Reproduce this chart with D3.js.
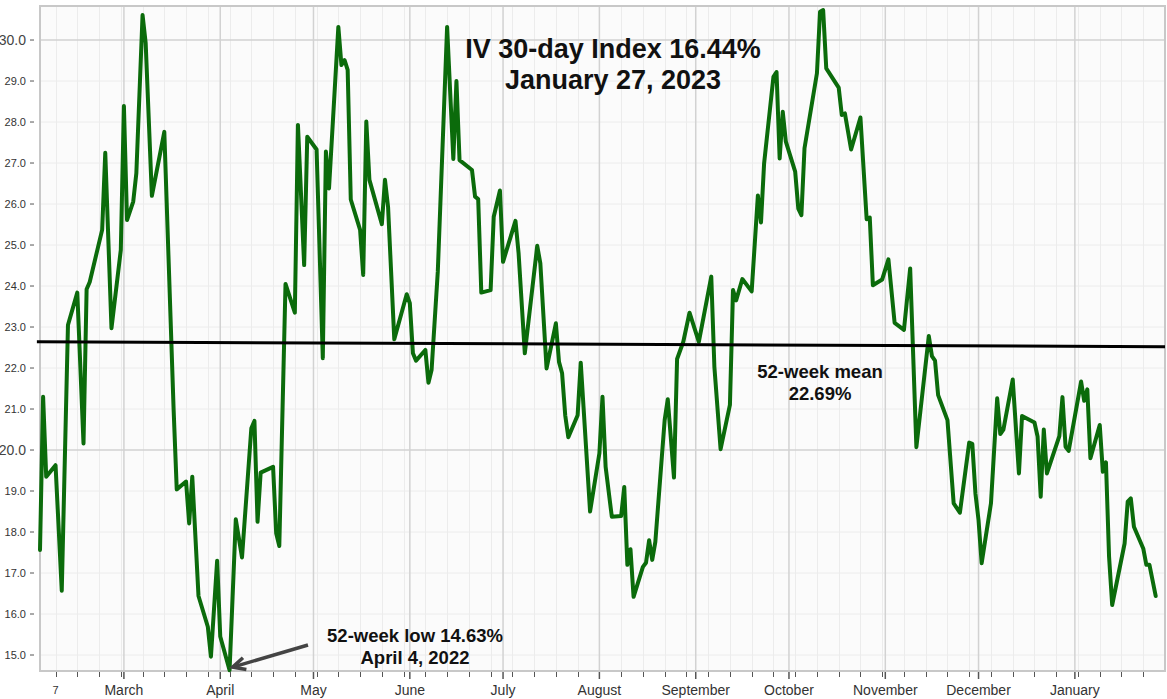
<!DOCTYPE html>
<html><head><meta charset="utf-8">
<script src="https://cdn.jsdelivr.net/npm/d3@7"></script>
<style>
body{margin:0;background:#fff}
svg{display:block}
text{font-family:"Liberation Sans",Arial,Helvetica,sans-serif}
</style>
</head><body>
<svg id="chart" width="1167" height="699"></svg>
<script>
// ---------- data ----------
const dates = [
"2022-02-02","2022-02-03","2022-02-04","2022-02-07","2022-02-09","2022-02-11","2022-02-14","2022-02-16","2022-02-17","2022-02-18",
"2022-02-22","2022-02-23","2022-02-25","2022-02-28","2022-03-01","2022-03-02","2022-03-04","2022-03-05","2022-03-07","2022-03-08",
"2022-03-10","2022-03-14","2022-03-17","2022-03-18","2022-03-21","2022-03-22","2022-03-23","2022-03-25","2022-03-28","2022-03-29",
"2022-03-31","2022-04-01","2022-04-04","2022-04-06","2022-04-08","2022-04-11","2022-04-12","2022-04-13","2022-04-14","2022-04-18",
"2022-04-19","2022-04-20","2022-04-22","2022-04-25","2022-04-26","2022-04-28","2022-04-29","2022-05-02","2022-05-04","2022-05-05",
"2022-05-06","2022-05-09","2022-05-10","2022-05-11","2022-05-12","2022-05-13","2022-05-16","2022-05-17","2022-05-18","2022-05-19",
"2022-05-23","2022-05-24","2022-05-25","2022-05-27","2022-05-31","2022-06-01","2022-06-02","2022-06-03","2022-06-06","2022-06-07",
"2022-06-08","2022-06-10","2022-06-13","2022-06-15","2022-06-16","2022-06-17","2022-06-21","2022-06-22","2022-06-23","2022-06-24",
"2022-06-27","2022-06-28","2022-06-30","2022-07-01","2022-07-05","2022-07-06","2022-07-08","2022-07-12","2022-07-13","2022-07-15",
"2022-07-18","2022-07-19","2022-07-20","2022-07-21","2022-07-22","2022-07-25","2022-07-26","2022-07-29","2022-08-01","2022-08-02",
"2022-08-03","2022-08-05","2022-08-08","2022-08-09","2022-08-10","2022-08-11","2022-08-12","2022-08-15","2022-08-16","2022-08-17",
"2022-08-18","2022-08-19","2022-08-22","2022-08-23","2022-08-25","2022-08-26","2022-08-28","2022-08-30","2022-09-02","2022-09-06",
"2022-09-07","2022-09-09","2022-09-12","2022-09-13","2022-09-14","2022-09-16","2022-09-19","2022-09-21","2022-09-22","2022-09-23",
"2022-09-26","2022-09-27","2022-09-28","2022-09-29","2022-09-30","2022-10-03","2022-10-04","2022-10-05","2022-10-06","2022-10-10",
"2022-10-11","2022-10-12","2022-10-13","2022-10-17","2022-10-18","2022-10-19","2022-10-21","2022-10-24","2022-10-26","2022-10-27",
"2022-10-28","2022-10-31","2022-11-02","2022-11-04","2022-11-07","2022-11-09","2022-11-11","2022-11-15","2022-11-16","2022-11-17",
"2022-11-18","2022-11-21","2022-11-23","2022-11-25","2022-11-28","2022-11-29","2022-11-30","2022-12-01","2022-12-02","2022-12-05",
"2022-12-07","2022-12-08","2022-12-09","2022-12-12","2022-12-14","2022-12-15","2022-12-19","2022-12-20","2022-12-21","2022-12-22",
"2022-12-23","2022-12-27","2022-12-28","2022-12-29","2022-12-30","2023-01-03","2023-01-04","2023-01-05","2023-01-06","2023-01-09",
"2023-01-10","2023-01-11","2023-01-12","2023-01-13","2023-01-17","2023-01-18","2023-01-19","2023-01-20","2023-01-23","2023-01-24",
"2023-01-25","2023-01-27"
];
const ivValues = [
17.56,21.30,19.35,19.63,16.57,23.05,23.84,20.16,23.92,24.10,
25.37,27.25,22.97,24.88,28.39,25.61,26.06,26.75,30.61,29.93,
26.20,27.76,20.98,19.04,19.23,18.21,19.35,16.44,15.69,14.96,
17.30,15.45,14.63,18.31,17.38,20.53,20.71,18.25,19.45,19.59,
17.97,17.66,24.05,23.35,27.93,24.51,27.64,27.33,22.24,27.28,
26.38,30.32,29.39,29.51,29.27,26.11,25.37,24.27,28.01,26.59,
25.51,26.59,25.93,22.70,23.80,23.58,22.36,22.18,22.44,21.64,
21.95,24.35,30.32,27.10,29.00,27.07,26.83,26.18,26.12,23.84,
23.90,25.69,26.33,24.59,25.59,24.80,22.36,24.98,24.55,21.99,
23.09,22.15,21.87,20.85,20.31,20.85,22.13,18.50,19.92,21.30,
19.59,18.37,18.39,19.10,17.20,17.58,16.42,17.15,17.25,17.80,
17.32,17.76,20.73,21.24,19.33,22.22,22.64,23.35,22.64,24.23,
22.03,20.02,21.10,23.90,23.65,24.17,23.87,26.21,25.55,26.99,
29.10,29.22,27.11,28.25,27.52,26.79,25.89,25.73,27.36,29.19,
30.69,30.73,29.31,28.84,28.17,28.21,27.33,28.11,25.63,25.67,
24.02,24.16,24.65,23.10,22.93,24.43,20.07,22.78,22.29,22.18,
21.34,20.73,18.70,18.47,20.18,20.15,18.94,18.29,17.24,18.70,
21.26,20.39,20.50,21.72,19.43,20.83,20.67,20.33,18.86,20.50,
19.43,20.34,21.29,20.08,19.98,21.67,21.20,21.48,19.80,20.61,
19.47,19.70,17.40,16.22,17.72,18.74,18.82,18.13,17.60,17.20,
17.20,16.44
];
const meanDates = ["2022-02-01","2023-01-30"];
const meanValues = [22.64, 22.52];
const lowDate = "2022-04-04";
const lowValue = 14.63;

const xDomain = ["2022-02-02","2023-01-30"];
const yDomain = [14.61, 30.83];
const yTickValues = [15,16,17,18,19,20,21,22,23,24,25,26,27,28,29,30];
const yMajorValues = [20,30];
const xLabelDates = ["2022-02-07","2022-03-01","2022-04-01","2022-05-01","2022-06-01","2022-07-01","2022-08-01","2022-09-01","2022-10-01","2022-11-01","2022-12-01","2023-01-01"];
const xLabelTexts = ["7","March","April","May","June","July","August","September","October","November","December","January"];
const titleLines = ["IV 30-day Index 16.44%","January 27, 2023"];
const meanLabel = ["52-week mean","22.69%"];
const lowLabel = ["52-week low 14.63%","April 4, 2022"];

// ---------- setup ----------
const parse = d3.utcParse("%Y-%m-%d");
const svg = d3.select("#chart");
const L = 40, R = 1165, T = 6, B = 671;

const x = d3.scaleUtc().domain(xDomain.map(parse)).range([L, R]);
const y = d3.scaleLinear().domain(yDomain).range([B, T]);

// plot background
svg.append("rect").attr("x", L).attr("y", T).attr("width", R - L).attr("height", B - T)
  .attr("fill", "#fbfbfb");

const grid = svg.append("g");
// minor horizontal gridlines
grid.selectAll("line.hmin").data(yTickValues.filter(v => !yMajorValues.includes(v))).join("line")
  .attr("x1", L).attr("x2", R).attr("y1", d => y(d)).attr("y2", d => y(d))
  .attr("stroke", "#ececec").attr("stroke-width", 1);
// minor vertical gridlines (weekly, Mondays)
const mondays = d3.utcMonday.range(x.domain()[0], x.domain()[1]);
grid.selectAll("line.vmin").data(mondays).join("line")
  .attr("x1", d => Math.round(x(d)) + 0.5).attr("x2", d => Math.round(x(d)) + 0.5)
  .attr("y1", T).attr("y2", B)
  .attr("stroke", "#ececec").attr("stroke-width", 1);
// major vertical (month)
const months = d3.utcMonth.range(x.domain()[0], x.domain()[1]);
grid.selectAll("line.vmaj").data(months).join("line")
  .attr("x1", d => x(d)).attr("x2", d => x(d)).attr("y1", T).attr("y2", B)
  .attr("stroke", "#d2d2d2").attr("stroke-width", 1.5);
// major horizontal
grid.selectAll("line.hmaj").data(yMajorValues).join("line")
  .attr("x1", L).attr("x2", R).attr("y1", d => y(d)).attr("y2", d => y(d))
  .attr("stroke", "#d2d2d2").attr("stroke-width", 1.5);

// frame
svg.append("rect").attr("x", L).attr("y", T).attr("width", R - L).attr("height", B - T)
  .attr("fill", "none").attr("stroke", "#c8c8c8").attr("stroke-width", 2);

// y axis labels + ticks
const yAx = svg.append("g");
yAx.selectAll("line").data(yTickValues).join("line")
  .attr("x1", 30).attr("x2", 34).attr("y1", d => y(d)).attr("y2", d => y(d))
  .attr("stroke", "#555").attr("stroke-width", 1);
yAx.selectAll("text").data(yTickValues).join("text")
  .attr("x", 26).attr("y", d => y(d)).attr("dy", "0.36em")
  .attr("text-anchor", "end")
  .attr("font-size", d => yMajorValues.includes(d) ? 14 : 11)
  .attr("fill", d => yMajorValues.includes(d) ? "#444" : "#333")
  .text(d => d3.format(".1f")(d));

// x axis ticks
const xAx = svg.append("g");
xAx.selectAll("line.wk").data(mondays).join("line")
  .attr("x1", d => Math.round(x(d)) + 0.5).attr("x2", d => Math.round(x(d)) + 0.5)
  .attr("y1", B + 1).attr("y2", B + 6)
  .attr("stroke", "#555").attr("stroke-width", 1);
xAx.selectAll("line.mo").data(months).join("line")
  .attr("x1", d => x(d)).attr("x2", d => x(d))
  .attr("y1", B + 1).attr("y2", B + 8)
  .attr("stroke", "#555").attr("stroke-width", 1.5);
xAx.selectAll("text").data(xLabelDates).join("text")
  .attr("x", d => x(parse(d))).attr("y", (d, i) => i === 0 ? 694 : 695)
  .attr("text-anchor", "middle")
  .attr("font-size", (d, i) => i === 0 ? 11 : 14)
  .attr("fill", "#333")
  .text((d, i) => xLabelTexts[i]);

// IV line
const series = dates.map((d, i) => ({ date: parse(d), value: ivValues[i] }));
svg.append("path").datum(series)
  .attr("fill", "none").attr("stroke", "#0b6b0b").attr("stroke-width", 4)
  .attr("stroke-linejoin", "round").attr("stroke-linecap", "round")
  .attr("d", d3.line().x(d => x(d.date)).y(d => y(d.value)));

// mean line
const meanSeries = meanDates.map((d, i) => ({ date: parse(d), value: meanValues[i] }));
svg.append("path").datum(meanSeries)
  .attr("fill", "none").attr("stroke", "#000").attr("stroke-width", 3)
  .attr("d", d3.line().x(d => x(d.date)).y(d => y(d.value)));

// title
const title = svg.append("text").attr("text-anchor", "middle")
  .attr("font-size", 27).attr("font-weight", "bold").attr("fill", "#111");
titleLines.forEach((t, i) => title.append("tspan").attr("x", 613).attr("y", 58 + i * 31).text(t));

// mean annotation
const ma = svg.append("text").attr("text-anchor", "middle")
  .attr("font-size", 18.5).attr("font-weight", "bold").attr("fill", "#111");
meanLabel.forEach((t, i) => ma.append("tspan").attr("x", 820).attr("y", 378 + i * 22).text(t));

// low annotation
const la = svg.append("text").attr("text-anchor", "middle")
  .attr("font-size", 18.5).attr("font-weight", "bold").attr("fill", "#111");
lowLabel.forEach((t, i) => la.append("tspan").attr("x", 415).attr("y", 642 + i * 21.5).text(t));

// arrow
const tipX = x(parse(lowDate)) + 3, tipY = y(lowValue) - 3;
const tailX = 308, tailY = 645;
const ang = Math.atan2(tailY - tipY, tailX - tipX);
const hl = 14, ha = 0.45;
svg.append("line").attr("x1", tailX).attr("y1", tailY).attr("x2", tipX + 2 * Math.cos(ang)).attr("y2", tipY + 2 * Math.sin(ang))
  .attr("stroke", "#444").attr("stroke-width", 3.5);
svg.append("path")
  .attr("d", `M${tipX + hl * Math.cos(ang - ha)},${tipY + hl * Math.sin(ang - ha)} L${tipX},${tipY} L${tipX + hl * Math.cos(ang + ha)},${tipY + hl * Math.sin(ang + ha)}`)
  .attr("fill", "none").attr("stroke", "#444").attr("stroke-width", 3.5).attr("stroke-linejoin", "miter");
</script>
</body></html>
